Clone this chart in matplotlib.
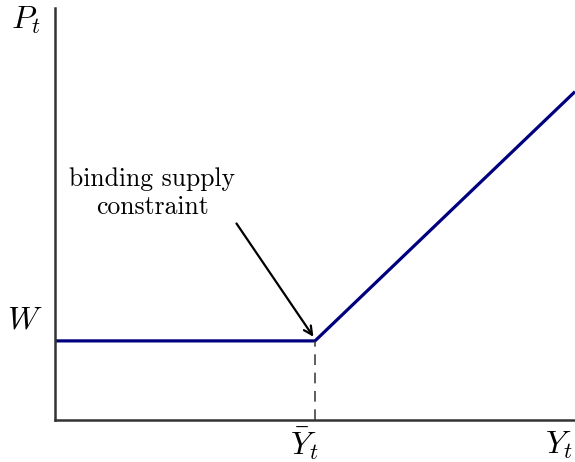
import matplotlib
matplotlib.use("Agg")
import matplotlib.pyplot as plt

plt.rcParams['font.family'] = 'serif'
plt.rcParams['font.serif'] = ['cmr10']
plt.rcParams['mathtext.fontset'] = 'cm'

# kinked supply curve
x_pts = [0, 5, 10]
y_pts = [1.92, 1.92, 7.97]
y_bar = 5
w_level = 1.92

fig = plt.figure(figsize=(5.75, 4.62), dpi=100)
ax = fig.add_axes([55/575, 42/462, 520/575, 412/462])

ax.plot(x_pts, y_pts, color='#00007f', lw=2.3, solid_capstyle='butt')
ax.plot([y_bar, y_bar], [0, w_level], color='#333333', lw=1.1, ls=(0, (7, 5)))

ax.set_xlim(0, 10)
ax.set_ylim(0, 10)
for s in ['top', 'right']:
    ax.spines[s].set_visible(False)
for s in ['left', 'bottom']:
    ax.spines[s].set_linewidth(1.8)
    ax.spines[s].set_color('#333333')
ax.set_xticks([])
ax.set_yticks([])

ax.text(-0.55, 9.7, r'$P_t$', fontsize=23, ha='center', va='center', clip_on=False)
ax.text(-0.58, 2.4, r'$W$', fontsize=23, ha='center', va='center', clip_on=False)
ax.text(y_bar - 0.2, -0.58, r'$\bar{Y}_t$', fontsize=23, ha='center', va='center', clip_on=False)
ax.text(9.7, -0.62, r'$Y_t$', fontsize=23, ha='center', va='center', clip_on=False)

ax.text(1.87, 5.5, 'binding supply\nconstraint', fontsize=18.5, ha='center', va='center',
        linespacing=1.25)
ax.annotate('', xy=(4.97, 2.02), xytext=(3.49, 4.77),
            arrowprops=dict(arrowstyle='->,head_length=0.6,head_width=0.3', color='black', lw=1.6,
                            shrinkA=0, shrinkB=0))

fig.savefig('out.png', dpi=100)
